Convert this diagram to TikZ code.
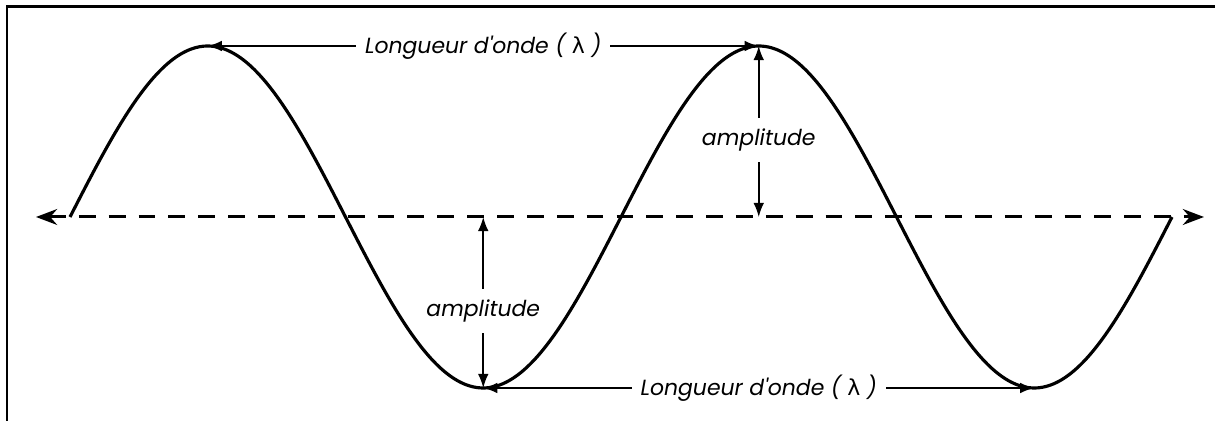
\documentclass[tikz,border=0pt]{standalone}
\usepackage{fontspec}
\setmainfont{Poppins}
\newfontfamily\greekfont{DejaVu Sans}
\usetikzlibrary{arrows.meta}
\begin{document}
\begin{tikzpicture}[x=0.02cm,y=-0.02cm,
  every node/.style={font=\itshape\fontsize{12.5}{14}\selectfont},
  wave/.style={line width=1.8pt},
  dimarrow/.style={line width=0.9pt,{Latex[length=8pt,width=6pt]}-{Latex[length=8pt,width=6pt]}},
  lbl/.style={fill=white,inner xsep=5pt,inner ysep=1pt}]
\useasboundingbox (0,0) rectangle (1215,421);
% Frame
\draw[line width=1.7pt] (7,421) -- (7,7) -- (1215,7);
% Axis
\coordinate (axl) at (36,217);
\coordinate (axr) at (1204,217);
\draw[line width=1.7pt,dash pattern=on 9.6pt off 7.4pt,{Stealth[length=12pt,width=9pt]}-{Stealth[length=12pt,width=9pt]}] (axl) -- (axr);
% Wave
\draw[wave] plot[domain=70:1172,samples=240,smooth] (\x,{217-171*sin((\x-70)/551*360)});
\coordinate (c1) at (207.75,46);
\coordinate (c2) at (758.75,46);
\coordinate (t1) at (483.25,388);
\coordinate (t2) at (1034.25,388);
\coordinate (z2) at (758.75,217);
\coordinate (z1) at (483.25,217);
% Wavelength
\draw[dimarrow] (c1) -- (c2) node[lbl,midway] {Longueur d\textquotesingle onde ( {\greekfont\upshape λ} )};
\draw[dimarrow] (t1) -- (t2) node[lbl,midway] {Longueur d\textquotesingle onde ( {\greekfont\upshape λ} )};
% Amplitude
\draw[dimarrow] (c2) -- (z2) node[lbl,pos=0.55,inner xsep=2pt,inner ysep=6pt] {amplitude};
\draw[dimarrow] (z1) -- (t1) node[lbl,pos=0.55,inner xsep=2pt,inner ysep=6pt] {amplitude};
\end{tikzpicture}
\end{document}
